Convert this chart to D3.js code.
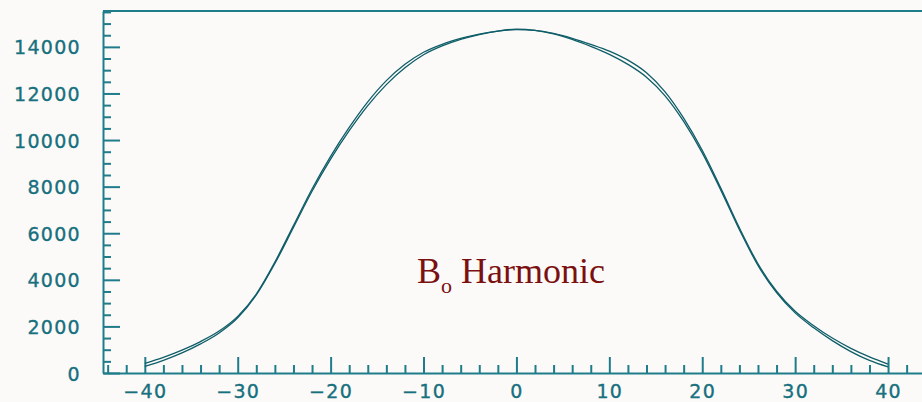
<!DOCTYPE html>
<html>
<head>
<meta charset="utf-8">
<script src="https://cdn.jsdelivr.net/npm/d3@7"></script>
<style>
  html, body { margin: 0; padding: 0; background: #fbfaf8; }
  svg { display: block; }
</style>
</head>
<body>
<svg id="chart" width="922" height="402"></svg>
<script>
// Positions along the axis (cm) where the field profile is sampled
const positions = [-40, -38, -36, -34, -32, -30, -28, -26, -24, -22, -20, -18, -16, -14, -12, -10, -8, -6, -4, -2,
                   0, 2, 4, 6, 8, 10, 12, 14, 16, 18, 20, 22, 24, 26, 28, 30, 32, 34, 36, 38, 40];

// B0 harmonic, first measurement
const harmonicA = [280, 540, 860, 1250, 1720, 2370, 3350, 4700, 6250, 7800, 9180, 10400, 11480, 12380, 13100, 13660, 14040, 14320, 14530, 14680,
                   14760, 14710, 14560, 14320, 14020, 13680, 13250, 12700, 11900, 10800, 9450, 7850, 6150, 4620, 3450, 2580, 1940, 1390, 920, 540, 260];

// B0 harmonic, second measurement
const harmonicB = [410, 670, 980, 1350, 1800, 2430, 3390, 4760, 6330, 7900, 9300, 10540, 11640, 12550, 13250, 13770, 14110, 14360, 14550, 14680,
                   14740, 14710, 14580, 14370, 14110, 13820, 13430, 12890, 12070, 10940, 9560, 7940, 6230, 4690, 3510, 2650, 2030, 1500, 1060, 690, 380];

const xMajorTicks = [-40, -30, -20, -10, 0, 10, 20, 30, 40];
const yMajorTicks = [0, 2000, 4000, 6000, 8000, 10000, 12000, 14000];

const axisColor = "#1f7c8a";
const textColor = "#17707e";
const curveColor = "#0e5d68";

const svg = d3.select("#chart");

const x = d3.scaleLinear().domain([-44.5, 45]).range([103, 934.5]);
const y = d3.scaleLinear().domain([0, 15540]).range([373, 11]);

const xMinor = d3.range(-44, 46, 2).filter(v => v % 10 !== 0);
const yMinor = d3.range(500, 15600, 500).filter(v => v % 2000 !== 0);

// Frame: top border
svg.append("line")
  .attr("x1", x.range()[0]).attr("x2", x.range()[1])
  .attr("y1", y.range()[1]).attr("y2", y.range()[1])
  .attr("stroke", axisColor).attr("stroke-width", 2);

// Bottom axis: major ticks with labels, minor ticks without
const xAxis = svg.append("g").attr("transform", `translate(0,${y.range()[0]})`)
  .call(d3.axisBottom(x).tickValues(xMajorTicks).tickSize(-16).tickSizeOuter(0)
        .tickPadding(25).tickFormat(d => d < 0 ? "\u2212" + Math.abs(d) : String(d)));
svg.append("g").attr("transform", `translate(0,${y.range()[0]})`)
  .call(d3.axisBottom(x).tickValues(xMinor).tickSize(-8).tickSizeOuter(0).tickFormat(""))
  .call(g => g.select(".domain").remove());

// Left axis
const yAxis = svg.append("g").attr("transform", `translate(${x.range()[0]},0)`)
  .call(d3.axisLeft(y).tickValues(yMajorTicks).tickSize(-17).tickSizeOuter(0)
        .tickPadding(40).tickFormat(d => String(d)));
svg.append("g").attr("transform", `translate(${x.range()[0]},0)`)
  .call(d3.axisLeft(y).tickValues(yMinor).tickSize(-8).tickSizeOuter(0).tickFormat(""))
  .call(g => g.select(".domain").remove());

svg.selectAll(".domain").attr("stroke", axisColor).attr("stroke-width", 2);
svg.selectAll(".tick line").attr("stroke", axisColor).attr("stroke-width", 2);
svg.selectAll(".tick text")
  .attr("fill", textColor)
  .attr("stroke", textColor)
  .attr("stroke-width", 0.35)
  .style("font-family", "'DejaVu Sans', sans-serif")
  .style("font-size", "19px")
  .style("letter-spacing", "1.3px");
xAxis.selectAll(".tick text").attr("dy", "0");
yAxis.selectAll(".tick text").attr("dy", "0.37em").attr("x", -22);

// Profiles
const line = d3.line()
  .x((d, i) => x(positions[i]))
  .y(d => y(d))
  .curve(d3.curveMonotoneX);

[harmonicA, harmonicB].forEach(series => {
  svg.append("path")
    .datum(series)
    .attr("fill", "none")
    .attr("stroke", curveColor)
    .attr("stroke-width", 1.3)
    .attr("d", line);
});

// Label
const label = svg.append("text")
  .attr("x", 417).attr("y", 283)
  .attr("fill", "#7a1010")
  .style("font-family", "'Liberation Serif', 'Times New Roman', serif")
  .style("font-size", "36px");
label.append("tspan").text("B");
label.append("tspan").attr("dy", 10).style("font-size", "22px").text("o");
label.append("tspan").attr("dy", -10).text(" Harmonic");
</script>
</body>
</html>
